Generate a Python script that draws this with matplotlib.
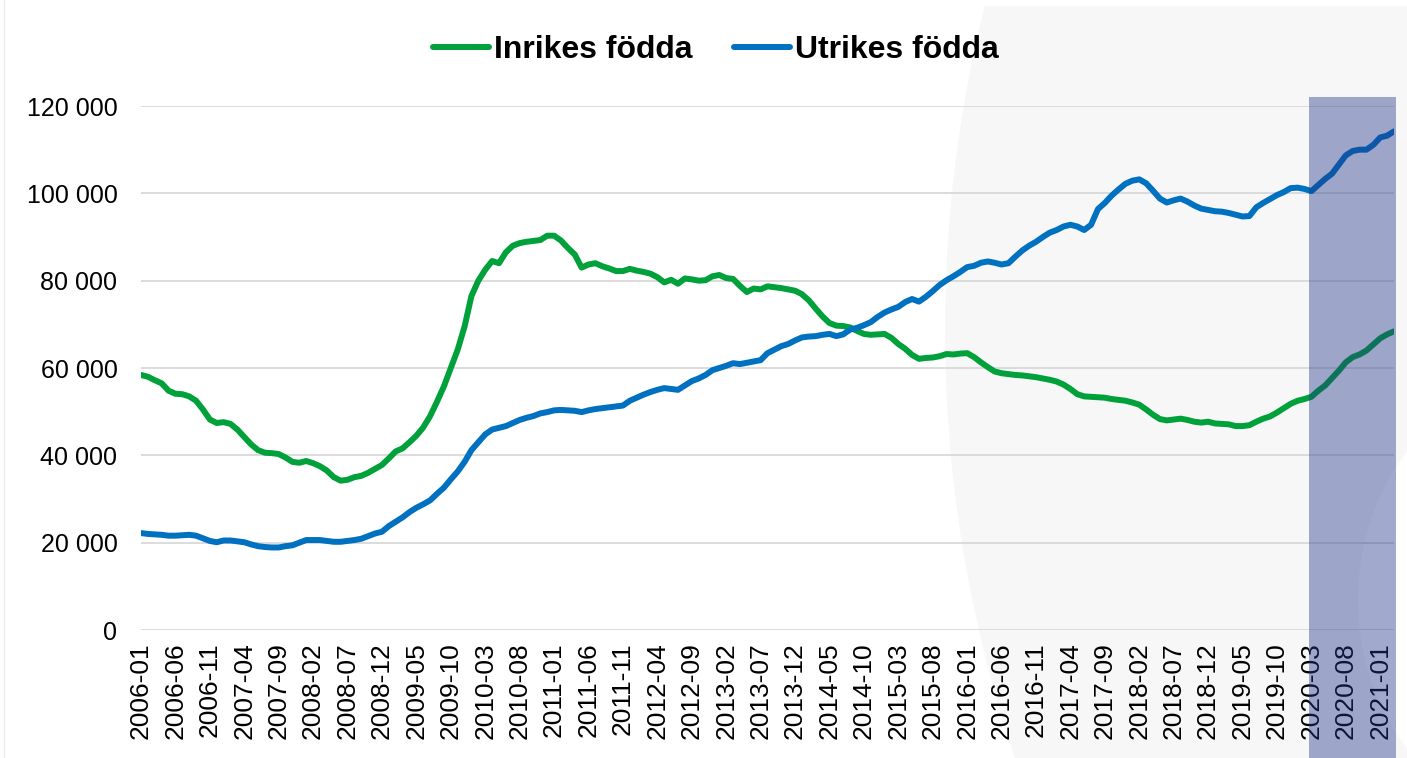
import pandas as pd
import matplotlib.pyplot as plt
from matplotlib.patches import Rectangle, Ellipse
from matplotlib.transforms import blended_transform_factory

# Monthly values, 2006-01 .. 2021-03
months = pd.date_range('2006-01-01', '2021-03-01', freq='MS').strftime('%Y-%m').tolist()

inrikes = [
    58.4, 58.0, 57.2, 56.5, 54.8, 54.1, 54.0, 53.5, 52.5, 50.5,
    48.2, 47.4, 47.6, 47.2, 45.9, 44.2, 42.5, 41.2, 40.6, 40.5,
    40.3, 39.5, 38.5, 38.3, 38.7, 38.2, 37.5, 36.5, 35.0, 34.2,
    34.4, 35.0, 35.3, 36.0, 36.9, 37.8, 39.3, 40.9, 41.6, 43.0,
    44.5, 46.4, 49.0, 52.3, 55.8, 60.0, 64.2, 69.5, 76.5, 80.0,
    82.5, 84.5, 84.0, 86.5, 88.0, 88.6, 88.9, 89.1, 89.3, 90.3,
    90.3, 89.2, 87.5, 86.0, 83.0, 83.7, 84.0, 83.3, 82.8, 82.2,
    82.2, 82.7, 82.3, 82.0, 81.6, 80.8, 79.6, 80.2, 79.3, 80.5,
    80.3, 80.0, 80.1, 81.0, 81.3, 80.6, 80.4, 78.8, 77.4, 78.2,
    78.0, 78.7, 78.5, 78.3, 78.0, 77.7, 76.9, 75.5, 73.6, 71.8,
    70.3, 69.7, 69.6, 69.3, 68.5, 67.8, 67.6, 67.7, 67.8, 66.9,
    65.5, 64.4, 63.0, 62.1, 62.3, 62.4, 62.7, 63.2, 63.1, 63.3,
    63.4, 62.5, 61.3, 60.2, 59.2, 58.8, 58.6, 58.4, 58.3, 58.1,
    57.9, 57.6, 57.3, 56.9, 56.2, 55.2, 54.0, 53.5, 53.4, 53.3,
    53.2, 52.9, 52.7, 52.5, 52.1, 51.6, 50.5, 49.3, 48.3, 48.0,
    48.2, 48.4, 48.1, 47.7, 47.5, 47.7, 47.3, 47.2, 47.1, 46.7,
    46.7, 46.9, 47.7, 48.4, 48.9, 49.8, 50.8, 51.8, 52.5, 52.9,
    53.4, 54.8, 56.0, 57.7, 59.4, 61.3, 62.5, 63.1, 64.0, 65.4,
    66.8, 67.7, 68.4,
]

utrikes = [
    22.2, 22.0, 21.9, 21.8, 21.6, 21.6, 21.7, 21.8, 21.6, 21.0,
    20.4, 20.1, 20.5, 20.5, 20.3, 20.1, 19.6, 19.2, 19.0, 18.9,
    18.9, 19.2, 19.4, 20.0, 20.6, 20.6, 20.6, 20.4, 20.2, 20.2,
    20.4, 20.6, 20.9, 21.5, 22.1, 22.5, 23.8, 24.8, 25.8, 27.0,
    28.0, 28.8, 29.7, 31.2, 32.6, 34.5, 36.3, 38.5, 41.2, 43.0,
    44.8, 45.9, 46.3, 46.7, 47.4, 48.1, 48.6, 49.0, 49.6, 49.9,
    50.3, 50.4, 50.3, 50.2, 49.9, 50.3, 50.6, 50.8, 51.0, 51.2,
    51.4, 52.5, 53.2, 53.9, 54.5, 55.0, 55.4, 55.2, 55.0, 56.0,
    57.0, 57.6, 58.4, 59.5, 60.0, 60.5, 61.1, 60.9, 61.2, 61.5,
    61.8, 63.4, 64.2, 65.0, 65.5, 66.3, 67.0, 67.2, 67.3, 67.6,
    67.8, 67.3, 67.7, 68.8, 69.2, 69.8, 70.5, 71.7, 72.7, 73.4,
    74.0, 75.1, 75.8, 75.2, 76.3, 77.6, 79.0, 80.1, 81.0, 82.0,
    83.1, 83.4, 84.1, 84.4, 84.1, 83.7, 84.0, 85.5, 86.9, 88.0,
    88.9, 90.0, 91.0, 91.6, 92.4, 92.8, 92.4, 91.6, 92.8, 96.4,
    97.8, 99.5, 100.9, 102.2, 102.9, 103.2, 102.3, 100.6, 98.8, 97.9,
    98.4, 98.8, 98.1, 97.2, 96.5, 96.2, 95.9, 95.8, 95.5, 95.1,
    94.7, 94.8, 96.8, 97.8, 98.7, 99.6, 100.3, 101.2, 101.3, 101.0,
    100.5, 101.9, 103.3, 104.5, 106.6, 108.7, 109.7, 110.0, 110.0, 111.1,
    112.8, 113.2, 114.2,
]

labels = ['Inrikes födda', 'Utrikes födda']
colors = ['#00A13A', '#0070C0']
shade_start = '2020-03'

plt.rcParams['font.family'] = ['Liberation Sans', 'DejaVu Sans']

W, H = 1407, 758
fig = plt.figure(figsize=(W / 100, H / 100), dpi=100)
fig.patch.set_facecolor('white')

# decorative background shapes (pixel coordinates)
bg = fig.add_axes([0, 0, 1, 1], zorder=-2)
bg.set_xlim(0, W)
bg.set_ylim(H, 0)
bg.axis('off')
bg.add_patch(Ellipse((2200, 330), 2510, 2600, color='#F7F7F7', lw=0))
bg.add_patch(Ellipse((1565, 600), 414, 460, color='white', lw=0))
bg.add_patch(Rectangle((0, 0), W, 6, color='white', lw=0))
bg.plot([4, 4], [0, H], color='#EBEBEB', lw=1)

ax = fig.add_axes([141 / W, 1 - 630 / H, (1394 - 141) / W, (630 - 106) / H])
ax.set_facecolor('none')

x = list(range(len(months)))
ax.plot(x, [v * 1000 for v in inrikes], color=colors[0], lw=4.3,
        solid_capstyle='round', solid_joinstyle='round', label=labels[0], zorder=3)
ax.plot(x, [v * 1000 for v in utrikes], color=colors[1], lw=4.3,
        solid_capstyle='round', solid_joinstyle='round', label=labels[1], zorder=3)

ax.set_xlim(0, len(months) - 1)
ax.set_ylim(0, 120000)
ax.set_yticks(range(0, 120001, 20000))
ax.set_yticklabels([f'{v:,}'.replace(',', ' ') for v in range(0, 120001, 20000)])
ax.set_xticks(x[::5])
ax.set_xticklabels(months[::5], rotation=90)
ax.tick_params(axis='y', length=0, pad=17, labelsize=18)
ax.tick_params(axis='x', length=0, pad=9, labelsize=19)
ax.grid(axis='y', color='#D9D9D9', lw=1.3)
ax.set_axisbelow(True)
for s in ax.spines.values():
    s.set_visible(False)

fig.legend(loc='center', bbox_to_anchor=(716 / W, 1 - 50 / H), ncol=2,
           frameon=False, prop={'weight': 'bold', 'size': 23},
           handlelength=1.75, handletextpad=0.15, columnspacing=1.3)

# shaded period, drawn on top of lines and tick labels
i0 = months.index(shade_start)
tr = blended_transform_factory(ax.transData, fig.transFigure)
fig.patches.append(Rectangle((i0 - 0.3, 0), len(months) - 1 - i0 + 0.6, 1 - 97 / H,
                             transform=tr, facecolor='#213688', alpha=0.42,
                             lw=0, zorder=5, figure=fig))

plt.savefig('out.png', dpi=100)
